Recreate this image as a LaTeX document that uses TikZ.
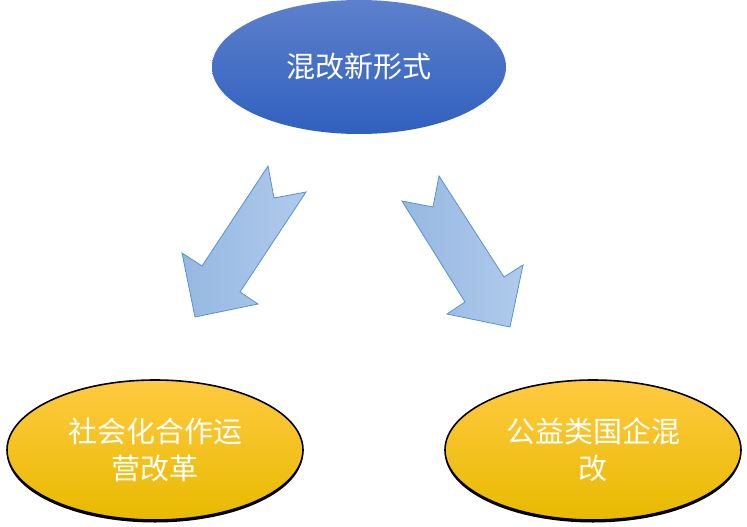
\documentclass[tikz,border=0pt]{standalone}
\usepackage{fontspec}
\newfontfamily\cjk{Noto Sans CJK SC}
\usetikzlibrary{shapes.geometric,shadows}
\definecolor{topblueA}{RGB}{92,128,204}
\definecolor{topblueB}{RGB}{48,96,190}
\definecolor{goldA}{RGB}{255,202,64}
\definecolor{goldB}{RGB}{232,186,0}
\definecolor{arrowA}{RGB}{150,184,226}
\definecolor{arrowB}{RGB}{176,202,235}
\definecolor{arrowline}{RGB}{84,146,212}

\begin{document}
\begin{tikzpicture}[x=1pt,y=-1pt]
	  \tikzset{topic/.style={ellipse,minimum width=294pt,minimum height=134pt,inner sep=0pt,
	      top color=topblueA,bottom color=topblueB,text=white,align=center,
	      font=\cjk\fontsize{29}{37}\selectfont},
	    branch/.style={topic,minimum width=296pt,minimum height=140pt,top color=goldA,bottom color=goldB,
	      draw=black,line width=1.6pt,
	      drop shadow={shadow xshift=0pt,shadow yshift=-2.5pt,fill=black,opacity=1}},
	    blockarrow/.style={draw=arrowline,line width=0.8pt,left color=arrowA,right color=arrowB}}
	  \useasboundingbox (0,0) rectangle (747,527);

	  \node[topic] (M) at (359,67) {混改新形式};
	  \node[branch] (L) at (155,450) {社会化合作运\\营改革};
	  \node[branch] (R) at (593,450) {公益类国企混\\改};

	  % block arrows
	  \draw[blockarrow] (268,166) -- (202,266) -- (182,253) -- (195,317) -- (258,304)
	    -- (240,292) -- (306,192) -- (274,198) -- cycle;
	  \draw[blockarrow] (439,176) -- (504,277) -- (523,265) -- (510,327) -- (447,314)
	    -- (465,302) -- (402,201) -- (433,207) -- cycle;
	\end{tikzpicture}
\end{document}
